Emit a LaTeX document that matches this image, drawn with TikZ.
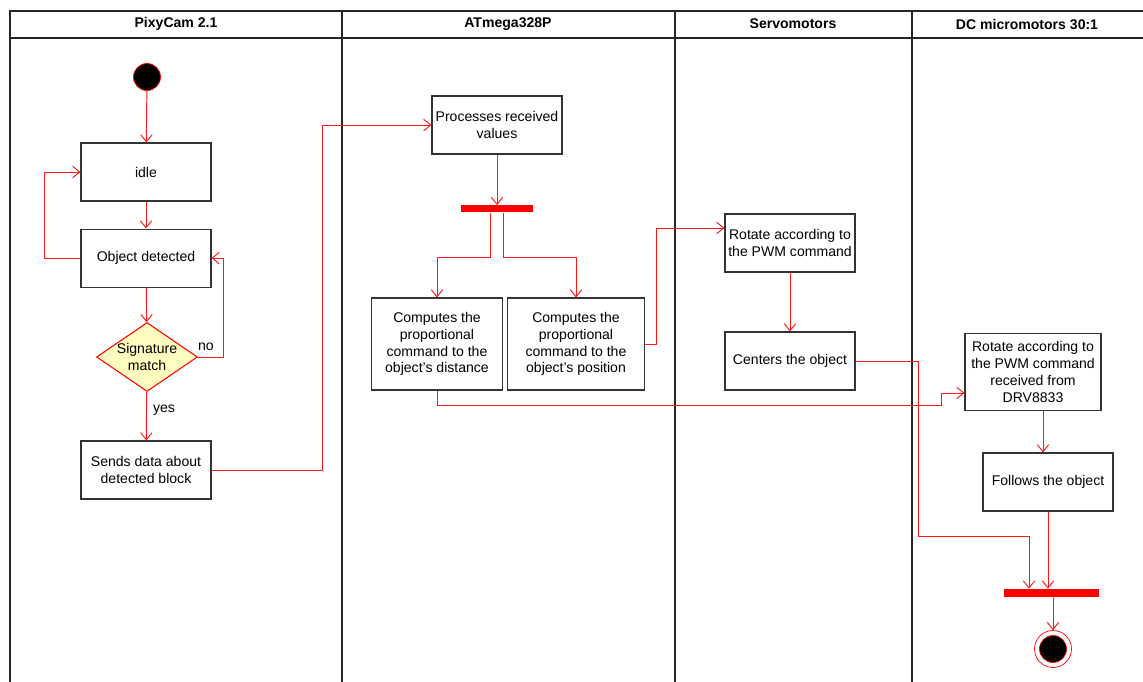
\documentclass[tikz,border=0pt]{standalone}
\usepackage{fontspec}
\setmainfont{Liberation Sans}
\usetikzlibrary{shapes.geometric,arrows.meta}
\usetikzlibrary{positioning}

\begin{document}
\begin{tikzpicture}[x=0.02cm,y=-0.02cm,
	act/.style={draw=black!80,line width=0.6pt,minimum width=2.6cm,minimum height=1.16cm,align=center,inner sep=1pt,font=\fontsize{8}{9.6}\selectfont},
	flow/.style={draw=red!90,line width=0.55pt,-{Straight Barb[length=4pt,width=6.5pt]}},
	bar/.style={fill=red,inner sep=0pt,minimum height=0.14cm},
	lane/.style={line width=0.8pt,draw=black!85},
	head/.style={font=\fontsize{8}{9.6}\selectfont\bfseries}]
	\useasboundingbox (0,0) rectangle (1143,682);

		% swimlanes
		\draw[lane] (10,682) -- (10,11) -- (1143,11);
		\draw[lane] (10,38) -- (1143,38);
		\draw[lane] (342,11) -- (342,682);
		\draw[lane] (675,11) -- (675,682);
		\draw[lane] (912,11) -- (912,682);
		\node[head] (h1) at (176,24) {PixyCam 2.1};
		\node[head] (h2) at (508,24) {ATmega328P};
		\node[head] (h3) at (793,24) {Servomotors};
		\node[head] (h4) at (1027,24) {DC micromotors 30:1};

		% PixyCam
		\node[circle,draw=red,fill=black,minimum size=0.54cm,inner sep=0pt] (start) at (147,77) {};
		\node[act] (idle) at (146,172) {idle};
		\node[act] (det) [below=0.54cm of idle] {Object detected};
		\node[diamond,aspect=1.46,draw=red,fill=yellow!25,line width=0.6pt,minimum width=2.02cm,minimum height=1.38cm,inner sep=0pt,align=center,font=\fontsize{8}{9.6}\selectfont] (sig) at (147,357) {Signature\\match};
		\node[act] (send) at (146,470) {Sends data about\\detected block};

		% ATmega328P
		\node[act] (proc) at (497,125) {Processes received\\values};
		\node[bar,minimum width=1.44cm] (bar1) at (497,209) {};
		\node[act,minimum width=2.62cm,minimum height=1.84cm] (dist) at (437,344) {Computes the\\proportional\\command to the\\object's distance};
		\node[act,minimum width=2.74cm,minimum height=1.84cm] (pos) at (576,344) {Computes the\\proportional\\command to the\\object's position};

		% Servomotors
		\node[act] (rot) at (790,243) {Rotate according to\\the PWM command};
		\node[act] (cent) at (790,361) {Centers the object};

		% DC micromotors
		\node[act,minimum width=2.72cm,minimum height=1.54cm] (drv) at (1033,372) {Rotate according to\\the PWM command\\received from\\DRV8833};
		\node[act] (foll) at (1048,482) {Follows the object};
		\node[bar,minimum width=1.9cm,minimum height=0.16cm] (bar2) at (1051,593) {};
		\node[circle,draw=red,fill=white,minimum size=0.74cm,inner sep=0pt] (end) at (1053,649) {};
		\node[circle,draw=red,fill=black,minimum size=0.54cm,inner sep=0pt] (endin) at (end) {};

		% connections
		\draw[flow] (start) -- (idle);
		\draw[flow] (idle) -- (det);
		\draw[flow] (det.west) -- ++(-36,0) |- (idle.west);
		\draw[flow] (det) -- (sig);
		\draw[flow] (sig.east) -- ++(25,0) |- (det.east);
		\node[font=\fontsize{8}{9.6}\selectfont] (no) at (206,347) {no};
		\draw[flow] (sig) -- (send);
		\node[font=\fontsize{8}{9.6}\selectfont] (yes) at (164,410) {yes};
		\draw[flow] (send.east) -- ++(111,0) |- (proc.west);
		\draw[flow] (proc) -- (bar1);
		\draw[flow] ([xshift=-0.14cm]bar1.south) -- ++(0,45) -| (dist.north);
		\draw[flow] ([xshift=0.12cm]bar1.south) -- ++(0,45) -| (pos.north);
		\draw[flow] (pos.east) -- ++(11,0) |- ([yshift=0.3cm]rot.west);
		\draw[flow] (rot) -- (cent);
		\draw[flow] (dist.south) -- ++(0,15) -- ++(504,0) |- ([yshift=-0.42cm]drv.west);
		\draw[flow] (cent.east) -- ++(63,0) -- ++(0,175) -| ([xshift=-0.44cm]bar2.north);
		\draw[flow] ([xshift=0.2cm]drv.south) -- ([xshift=0.2cm]drv.south |- foll.north);
		\draw[flow] (foll.south) -- (foll.south |- bar2.north);
		\draw[flow] (end.north |- bar2.south) -- (end.north);

	\end{tikzpicture}
\end{document}
